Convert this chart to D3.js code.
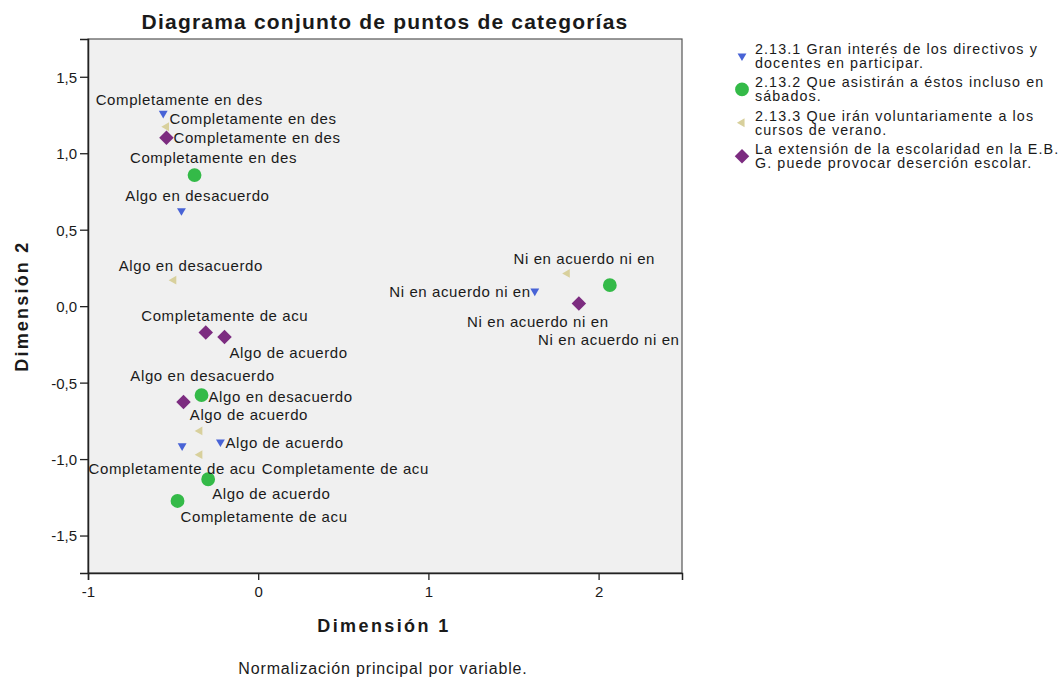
<!DOCTYPE html>
<html>
<head>
<meta charset="utf-8">
<script src="https://cdn.jsdelivr.net/npm/d3@7"></script>
<style>
  body { margin: 0; background: #fff; }
  text { font-family: "Liberation Sans", Arial, sans-serif; fill: #1a1a1a; }
</style>
</head>
<body>
<div id="chart"></div>
<script>
// categories (same order in every series)
const categories = ["Completamente en des", "Algo en desacuerdo", "Ni en acuerdo ni en", "Algo de acuerdo", "Completamente de acu"];

const seriesNames = [
    ["2.13.1 Gran interés de los directivos y", "docentes en participar."],
    ["2.13.2 Que asistirán a éstos incluso  en", "sábados."],
    ["2.13.3 Que irán voluntariamente a los", "cursos de verano."],
    ["La extensión de la escolaridad en la E.B.", "G. puede provocar deserción escolar."]
];

// dimension 1 / dimension 2 per series
const s1Dim1 = [-0.558, -0.451, 1.625, -0.222, -0.447];
const s1Dim2 = [1.261, 0.624, 0.098, -0.888, -0.914];
const s2Dim1 = [-0.374, -0.333, 2.066, -0.294, -0.474];
const s2Dim2 = [0.857, -0.582, 0.137, -1.132, -1.274];
const s3Dim1 = [-0.539, -0.496, 1.816, -0.343, -0.343];
const s3Dim2 = [1.173, 0.170, 0.214, -0.816, -0.971];
const s4Dim1 = [-0.539, -0.439, 1.884, -0.198, -0.308];
const s4Dim2 = [1.101, -0.626, 0.018, -0.201, -0.172];

const xTicks = [-1, 0, 1, 2];
const yTicks = [-1.5, -1.0, -0.5, 0.0, 0.5, 1.0, 1.5];

// label placement (anchor, dx, dy in px) - hand tuned to avoid overlaps like SPSS does
const labelPos = [
    [["middle", 16, -14], ["middle", 16, -15], ["end", -4, 0], ["start", 5, 1], ["middle", -10, 23]],
    [["middle", 19, -18], ["start", 7, 1], ["middle", -1, 54], ["start", 4, 14], ["start", 3, 16]],
    [["start", 3, -8], ["middle", 17, -15], ["middle", 17, -15], ["start", -10, -16], ["start", 62, 14]],
    [["start", 7, 0], ["middle", 19, -26], ["middle", -41, 18], ["start", 5, 16], ["middle", 19, -17]]
];

const colors = ["#4863d6", "#34ba48", "#d8d09c", "#7c2c80"];
const symbols = [
    { type: d3.symbolTriangle, size: 34, rotate: 180 },
    { type: d3.symbolCircle, size: 150, rotate: 0 },
    { type: d3.symbolTriangle, size: 34, rotate: -90 },
    { type: d3.symbolSquare, size: 105, rotate: 45 }
];

const dims = [[s1Dim1, s1Dim2], [s2Dim1, s2Dim2], [s3Dim1, s3Dim2], [s4Dim1, s4Dim2]];
const points = [];
dims.forEach(([d1, d2], s) => {
    categories.forEach((c, i) => points.push({ s, cat: c, x: d1[i], y: d2[i], lab: labelPos[s][i] }));
});

const width = 1061, height = 682;
const plot = { left: 88, right: 682, top: 39, bottom: 573 };

const svg = d3.select("#chart").append("svg")
    .attr("width", width)
    .attr("height", height);

const x = d3.scaleLinear().domain([-1, 2.49]).range([plot.left, plot.right]);
const y = d3.scaleLinear().domain([-1.745, 1.747]).range([plot.bottom, plot.top]);

const loc = d3.formatLocale({ decimal: ",", thousands: ".", grouping: [3], currency: ["", ""], minus: "-" });
const fmtY = loc.format(".1f");

// plot background + frame
svg.append("rect")
    .attr("x", plot.left).attr("y", plot.top)
    .attr("width", plot.right - plot.left).attr("height", plot.bottom - plot.top)
    .attr("fill", "#f0f0f0")
    .attr("stroke", "#555")
    .attr("stroke-width", 1.2);

// axes
const xAxis = svg.append("g")
    .attr("transform", `translate(0,${plot.bottom})`)
    .call(d3.axisBottom(x).tickValues(xTicks).tickSize(7).tickPadding(6).tickFormat(loc.format("d")));
const yAxis = svg.append("g")
    .attr("transform", `translate(${plot.left},0)`)
    .call(d3.axisLeft(y).tickValues(yTicks).tickSize(8).tickPadding(3).tickFormat(fmtY));

[xAxis, yAxis].forEach(g => {
    g.select(".domain").attr("stroke", "#222").attr("stroke-width", 1.5);
    g.selectAll(".tick line").attr("stroke", "#222").attr("stroke-width", 1.3);
    g.selectAll(".tick text")
        .attr("fill", "#1a1a1a")
        .style("font-family", "'Liberation Sans', Arial, sans-serif")
        .style("font-size", "15px");
});
yAxis.selectAll(".tick text").attr("dy", "0.36em");

// points
svg.selectAll("path.pt")
    .data(points)
    .enter()
    .append("path")
        .attr("class", "pt")
        .attr("d", d => d3.symbol().type(symbols[d.s].type).size(symbols[d.s].size)())
        .attr("transform", d => `translate(${x(d.x)},${y(d.y)}) rotate(${symbols[d.s].rotate})`)
        .attr("fill", d => colors[d.s]);

// point labels
svg.selectAll("text.lbl")
    .data(points)
    .enter()
    .append("text")
        .attr("class", "lbl")
        .attr("x", d => x(d.x) + d.lab[1])
        .attr("y", d => y(d.y) + d.lab[2])
        .attr("text-anchor", d => d.lab[0])
        .attr("dominant-baseline", "central")
        .style("font-size", "15px")
        .style("letter-spacing", "0.6px")
        .text(d => d.cat);

// title
svg.append("text")
    .attr("x", 385).attr("y", 21)
    .attr("text-anchor", "middle")
    .attr("dominant-baseline", "central")
    .style("font-size", "21px")
    .style("font-weight", "bold")
    .style("letter-spacing", "1.2px")
    .text("Diagrama conjunto de puntos de categorías");

// axis titles
svg.append("text")
    .attr("x", 384).attr("y", 626)
    .attr("text-anchor", "middle")
    .attr("dominant-baseline", "central")
    .style("font-size", "18px")
    .style("font-weight", "bold")
    .style("letter-spacing", "2.4px")
    .text("Dimensión 1");

svg.append("text")
    .attr("transform", `translate(22,${y(0)}) rotate(-90)`)
    .attr("text-anchor", "middle")
    .attr("dominant-baseline", "central")
    .style("font-size", "18px")
    .style("font-weight", "bold")
    .style("letter-spacing", "2.2px")
    .text("Dimensión 2");

svg.append("text")
    .attr("x", 383).attr("y", 668)
    .attr("text-anchor", "middle")
    .attr("dominant-baseline", "central")
    .style("font-size", "16px")
    .style("letter-spacing", "0.85px")
    .text("Normalización principal por variable.");

// legend
const legend = svg.selectAll("g.leg")
    .data(seriesNames)
    .enter()
    .append("g")
        .attr("class", "leg")
        .attr("transform", (d, i) => `translate(742,${49 + i * 33.4})`);

legend.append("path")
    .attr("d", (d, i) => d3.symbol().type(symbols[i].type).size(symbols[i].size)())
    .attr("transform", (d, i) => `translate(0,7) rotate(${symbols[i].rotate})`)
    .attr("fill", (d, i) => colors[i]);

legend.each(function(lines) {
    const g = d3.select(this);
    lines.forEach((t, k) => {
        g.append("text")
            .attr("x", 13)
            .attr("y", k * 14)
            .attr("dominant-baseline", "central")
            .style("font-size", "14.3px")
            .style("letter-spacing", "1.1px")
            .text(t);
    });
});
</script>
</body>
</html>
